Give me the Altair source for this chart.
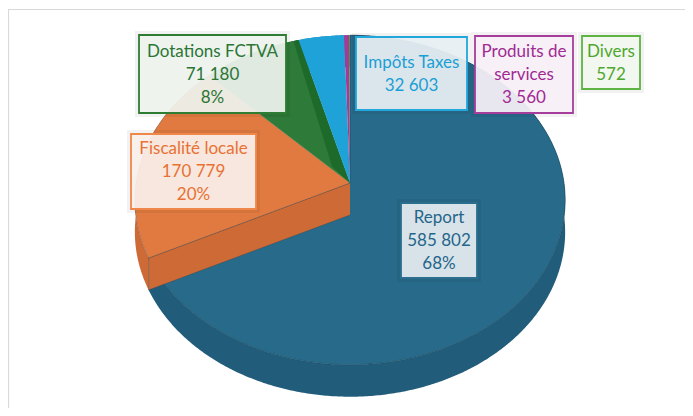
import math
import altair as alt
import pandas as pd

# ---------------- data ----------------
categories = ["Report", "Fiscalité locale", "Dotations FCTVA", "Impôts Taxes",
              "Produits de services", "Divers"]
values = [585802, 170779, 71180, 32603, 3560, 572]
label_lines = [["Report"], ["Fiscalité locale"], ["Dotations FCTVA"], ["Impôts Taxes"],
               ["Produits de", "services"], ["Divers"]]
show_percent = [True, True, True, False, False, False]

# ---------------- styles ----------------
top_colors = ["#276A8A", "#E17A40", "#2E7A38", "#1FA2D8", "#A63A9A", "#4EA72E"]
side_colors = ["#215D7B", "#CE6A36", "#1F6A2C", "#1784B4", "#86297B", "#3E8A24"]
text_colors = ["#24658A", "#E97132", "#2B7535", "#1A9FD5", "#A02B93", "#4EA72E"]
box_stroke = ["#2B6E8E", "#F0874A", "#2E7D32", "#22A7DC", "#A63D9B", "#5DB443"]
box_fill = ["#E6EDF1", "#FAF0EB", "#EEF3EE", "#E8F0F4", "#F8F0F7", "#F2F8F0"]

# label box positions (pixels)
box_x1 = [401, 131, 139, 356, 475, 582]
box_x2 = [477, 256, 286, 467, 573, 640]
box_y1 = [203, 134, 35, 37, 36, 36]
box_y2 = [278, 209, 113, 110, 113, 89]

W, H = 677, 400
X0, Y0 = 8, 8
CX, CY, RX, RY, PERSP, DEPTH = 350, 183, 214, 163, 0.103, 32
FONT = "Lato"
FONT_SIZE = 17
LINE_H = 23

xs = alt.Scale(domain=[X0, X0 + W], nice=False, zero=False)
ys = alt.Scale(domain=[Y0, Y0 + H], reverse=True, nice=False, zero=False)


def proj(theta_deg, depth=0.0):
    t = math.radians(theta_deg)
    f = 1.0 / (1.0 + PERSP * math.cos(t))
    return CX + RX * math.sin(t) * f, CY - RY * math.cos(t) * f + depth


def arc(a0, a1, depth=0.0, step=0.5):
    n = max(2, int(abs(a1 - a0) / step) + 1)
    return [proj(a0 + (a1 - a0) * k / (n - 1), depth) for k in range(n)]


def poly_layer(points, fill, stroke=None, sw=0.0, so=1.0):
    df = pd.DataFrame({"x": [p[0] for p in points], "y": [p[1] for p in points],
                       "i": list(range(len(points)))})
    kw = dict(fill=fill, strokeWidth=sw, strokeJoin="round", interpolate="linear")
    kw["stroke"] = stroke if stroke else fill
    kw["strokeOpacity"] = so if stroke else 0
    return alt.Chart(df).mark_line(**kw).encode(
        x=alt.X("x:Q", scale=xs, axis=None),
        y=alt.Y("y:Q", scale=ys, axis=None),
        order=alt.Order("i:Q"),
    )


total = sum(values)
starts, ends = [], []
acc = 0.0
for v in values:
    starts.append(acc / total * 360.0)
    acc += v
    ends.append(acc / total * 360.0)

layers = []

# frame lines
frame = pd.DataFrame({"x": [X0 + 0.5, X0], "x2": [X0 + 0.5, X0 + W],
                      "y": [9.5, 9.5], "y2": [Y0 + H, 9.5]})
layers.append(alt.Chart(frame).mark_rule(color="#D9D9D9", strokeWidth=1.2).encode(
    x=alt.X("x:Q", scale=xs, axis=None), x2="x2:Q",
    y=alt.Y("y:Q", scale=ys, axis=None), y2="y2:Q"))

# side walls
for k in range(len(values)):
    top = arc(starts[k], ends[k], 0)
    bot = arc(starts[k], ends[k], DEPTH)
    layers.append(poly_layer(top + bot[::-1], side_colors[k]))

C = (CX, CY)
C_low = (CX, CY + DEPTH)

# Report top face
layers.append(poly_layer([C] + arc(starts[0], ends[0]) + [C], top_colors[0],
                         stroke="#1A4A62", sw=0.8, so=0.8))

# orange cut face (start side)
r_top = proj(starts[1])
r_bot = proj(starts[1], DEPTH)
layers.append(poly_layer([C, r_top, r_bot, C_low], side_colors[1],
                         stroke="#2A4656", sw=0.6, so=0.6))

# remaining top faces
for k in range(1, len(values)):
    pts = [C] + arc(starts[k], ends[k]) + [C]
    if k == 1:
        layers.append(poly_layer(pts, top_colors[k], stroke="#3A4650", sw=0.6, so=0.5))
    else:
        layers.append(poly_layer(pts, top_colors[k]))
    if k == 2:
        # darker shading band in the green slice
        ref = proj(starts[2] + 5)
        p = (CX + 0.14 * (ref[0] - CX), CY + 0.14 * (ref[1] - CY))
        band = [C] + arc(ends[2], ends[2] - 1.6) + [p, C]
        layers.append(poly_layer(band, "#1D6A2B"))

# label boxes
rows, trows = [], []
for k in range(len(values)):
    rows.append({"x": box_x1[k], "x2": box_x2[k], "y": box_y1[k], "y2": box_y2[k],
                 "fill": box_fill[k], "stroke": box_stroke[k],
                 "gx": box_x1[k] - 4, "gx2": box_x2[k] + 4,
                 "gy": box_y1[k] - 4, "gy2": box_y2[k] + 4})
    lines = list(label_lines[k]) + [f"{values[k]:,}".replace(",", " ")]
    if show_percent[k]:
        lines.append(f"{round(values[k] / total * 100)}%")
    yc = (box_y1[k] + box_y2[k]) / 2.0
    xc = (box_x1[k] + box_x2[k]) / 2.0
    n = len(lines)
    for j, t in enumerate(lines):
        trows.append({"x": xc, "y": yc + (j - (n - 1) / 2.0) * LINE_H + 0.5, "text": t,
                      "color": text_colors[k]})
boxes = pd.DataFrame(rows)
texts = pd.DataFrame(trows)

layers.append(alt.Chart(boxes).mark_rect(color="#000000", opacity=0.05).encode(
    x=alt.X("gx:Q", scale=xs, axis=None), x2="gx2:Q",
    y=alt.Y("gy:Q", scale=ys, axis=None), y2="gy2:Q"))
layers.append(alt.Chart(boxes).mark_rect(strokeWidth=1.8, fillOpacity=0.93).encode(
    x=alt.X("x:Q", scale=xs, axis=None), x2="x2:Q",
    y=alt.Y("y:Q", scale=ys, axis=None), y2="y2:Q",
    fill=alt.Fill("fill:N", scale=None),
    stroke=alt.Stroke("stroke:N", scale=None)))
layers.append(alt.Chart(texts).mark_text(font=FONT, fontSize=FONT_SIZE, baseline="middle",
                                         align="center").encode(
    x=alt.X("x:Q", scale=xs, axis=None),
    y=alt.Y("y:Q", scale=ys, axis=None),
    text="text:N",
    color=alt.Color("color:N", scale=None)))

chart = alt.layer(*layers).properties(
    width=W, height=H, padding=0, autosize=alt.AutoSizeParams(type="none"),
    background="#FFFFFF"
).configure_view(stroke=None)

chart.save("out.html", embed_options={"renderer": "svg", "actions": False})
